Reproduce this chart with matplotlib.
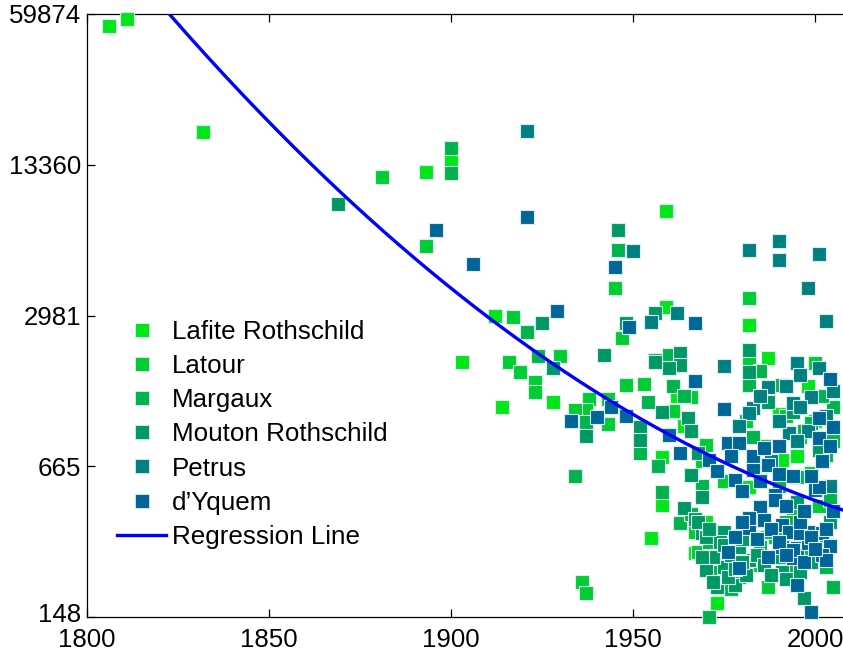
import numpy as np
import matplotlib
matplotlib.use("Agg")
import matplotlib.pyplot as plt
import matplotlib.transforms as mtransforms
from matplotlib.lines import Line2D

plt.rcParams['font.family'] = ['Liberation Sans', 'DejaVu Sans']

# ---- data: vintage year and natural log of price ----
lafite_year = [1806, 1811, 1832, 1893, 1900, 1912, 1903, 1914, 1928, 1959,
               1959, 1982, 1987, 1990, 1955, 1967, 1973, 1982, 1958, 1958,
               1991, 1970, 1976, 1985, 1995, 2000, 1962, 1964, 1998]
lafite_logp = [10.88, 10.95, 9.83, 9.43, 9.55, 8.00, 7.54, 7.09, 7.14, 9.04,
               8.08, 7.91, 7.58, 7.02, 5.79, 5.64, 5.14, 6.29, 6.11, 6.59,
               6.56, 5.95, 5.60, 5.80, 6.60, 6.95, 7.20, 6.90, 7.30]

latour_year = [1881, 1893, 1917, 1916, 1919, 1923, 1923, 1930, 1945, 1947,
               1948, 1938, 1937, 1934, 1943, 1943, 1936, 1937, 1953, 1966,
               1970, 1982, 1982, 2000, 1996, 1999, 1987, 1968, 1967, 1972,
               1978, 1983, 1989, 1994, 2001, 1969, 1975, 1981, 1986, 1992,
               2003, 1961]
latour_logp = [9.38, 8.69, 7.99, 7.54, 7.44, 7.34, 7.24, 7.60, 8.27, 7.78,
               7.31, 7.17, 7.06, 7.06, 6.92, 7.17, 5.35, 5.24, 7.32, 7.19,
               6.71, 8.17, 7.55, 7.53, 6.79, 6.43, 5.30, 5.65, 5.85, 5.70,
               5.62, 5.52, 5.80, 6.05, 6.10, 6.55, 6.35, 6.95, 6.70, 7.00,
               6.60, 7.05]

margaux_year = [1900, 1900, 1921, 1924, 1937, 1934, 1946, 1956, 1960, 1954,
                1957, 1958, 1963, 1971, 1975, 1971, 1983, 1983, 1982, 1982,
                1991, 1986, 1995, 2004, 2004, 2005, 2005, 2003, 1999, 1993,
                2005, 1952, 1966, 1970, 1974, 1977, 1979, 1985, 1988, 1992,
                1997, 2000, 2003, 1969, 1985, 1990, 1997, 2002, 1961, 1964,
                1985]
margaux_logp = [9.67, 9.42, 7.84, 7.60, 6.94, 6.40, 8.65, 7.56, 7.61, 7.14,
                6.50, 6.24, 5.94, 5.00, 5.85, 5.75, 5.79, 6.79, 7.39, 7.31,
                7.31, 7.16, 6.39, 6.29, 6.16, 7.09, 6.75, 6.61, 6.93, 5.50,
                5.30, 6.63, 6.02, 5.55, 5.45, 5.28, 5.40, 5.70, 5.85, 5.95,
                5.65, 5.80, 5.50, 6.30, 6.50, 6.30, 6.85, 7.20, 7.30, 7.20,
                7.45]

mouton_year = [1869, 1925, 1928, 1942, 1946, 1948, 1937, 1956, 1963, 1963,
               1960, 1956, 1958, 1965, 1966, 1952, 1952, 1968, 1977, 1966,
               1969, 1964, 1967, 1969, 1975, 1976, 1970, 1973, 1978, 1981,
               1982, 1975, 1982, 1982, 1987, 1994, 2001, 1995, 2004, 1991,
               1997, 1968, 1970, 1972, 1974, 1977, 1979, 1980, 1976, 1972,
               1969, 1971, 1975, 1978, 1980, 1984, 1986, 1988, 1990, 1992,
               1996, 1999, 2003]
mouton_logp = [9.11, 7.93, 7.48, 7.61, 8.85, 7.93, 6.80, 8.02, 7.63, 7.51,
               7.48, 7.54, 7.04, 6.98, 6.85, 6.89, 6.76, 6.63, 6.66, 6.41,
               6.19, 6.08, 5.98, 5.84, 5.85, 5.67, 5.47, 5.30, 5.32, 5.42,
               5.57, 5.50, 7.66, 7.44, 7.14, 7.04, 6.66, 6.14, 5.95, 5.45,
               5.19, 5.95, 5.80, 5.60, 5.75, 5.62, 5.70, 5.55, 5.40, 5.35,
               5.60, 5.88, 5.72, 5.48, 5.78, 5.62, 5.52, 5.42, 5.60, 5.38,
               5.45, 5.55, 5.72]

petrus_year = [1921, 1950, 1955, 1962, 1982, 1990, 1990, 2001, 1998, 2003,
               1975, 1987, 1983, 1982, 1995, 1996, 2001, 1999, 1994, 1996,
               1993, 1990, 1998, 2003, 2005, 1985, 1992, 1988, 1995, 2004,
               1979]
petrus_logp = [9.84, 8.64, 7.94, 8.02, 8.65, 8.74, 8.55, 8.61, 8.27, 7.95,
               7.50, 7.29, 7.08, 7.03, 7.53, 7.41, 7.48, 7.19, 7.13, 7.09,
               6.83, 6.95, 6.85, 7.00, 7.25, 7.20, 7.30, 6.55, 6.75, 6.30,
               6.90]

yquem_year = [1896, 1906, 1921, 1929, 1933, 1940, 1944, 1948, 1945, 1949,
              1967, 1967, 1975, 1960, 1963, 1971, 1976, 1979, 1983, 1986,
              1978, 1983, 1987, 1990, 1989, 1985, 1986, 1982, 1982, 1979,
              1991, 1993, 1998, 2002, 1995, 1998, 2004, 2002, 1994, 1991,
              1995, 1999, 2004, 2001, 2005, 2001, 2000, 1989, 1996, 2003,
              1994, 2001, 1976, 1978, 1980, 1984, 1987, 1988, 1990, 1992,
              1996, 1997, 1999, 2000, 2003, 2005, 1985, 1992, 1997, 1999,
              2002, 2004, 1980, 1973, 1977, 1990, 1994]
yquem_logp = [8.85, 8.51, 8.98, 8.04, 6.95, 6.99, 7.09, 7.00, 8.48, 7.89,
              7.93, 7.35, 7.07, 6.81, 6.63, 6.56, 6.73, 6.73, 6.60, 6.68,
              6.36, 6.46, 6.51, 6.42, 6.21, 6.09, 5.97, 5.89, 5.99, 5.49,
              5.92, 5.85, 5.85, 5.84, 5.69, 5.74, 5.71, 5.62, 5.59, 5.70,
              5.32, 5.05, 7.37, 6.98, 6.89, 6.78, 6.26, 6.16, 5.84, 5.57,
              5.67, 6.29, 5.65, 5.80, 5.95, 5.78, 5.60, 5.88, 5.75, 5.62,
              5.95, 5.55, 5.80, 5.68, 5.88, 6.05, 6.35, 6.10, 6.05, 6.40,
              6.55, 6.70, 6.25, 6.45, 6.60, 6.70, 6.40]

wine_names = ["Lafite Rothschild", "Latour", "Margaux",
              "Mouton Rothschild", "Petrus", "d\u2019Yquem"]
wine_colors = [(0, 0.9, 0.1), (0, 0.8, 0.2), (0, 0.7, 0.3),
               (0, 0.6, 0.4), (0, 0.5, 0.5), (0, 0.4, 0.6)]

# quadratic fit of log price on vintage, centred at 2008
reg_center = 2008
reg_coef = [6.06, -0.01187, 7.97e-5]

# y ticks sit at log-price values; labels show the price itself
ytick_logs = [5.0, 6.5, 8.0, 9.5, 11.0]
ytick_labels = ["148", "665", "2981", "13360", "59874"]
xtick_years = [1800, 1850, 1900, 1950, 2000]

W, H = 843, 653
fig = plt.figure(figsize=(W / 100, H / 100), dpi=100)
left, right, top, bottom = 87, 843, 14, 617
ax = fig.add_axes([left / W, 1 - bottom / H, (right - left) / W, (bottom - top) / H])

series = [(lafite_year, lafite_logp), (latour_year, latour_logp),
          (margaux_year, margaux_logp), (mouton_year, mouton_logp),
          (petrus_year, petrus_logp), (yquem_year, yquem_logp)]

edge = '#dcecec'
handles = []
for (yrs, lp), name, col in zip(series, wine_names, wine_colors):
    ax.plot(yrs, lp, ls='none', marker='s', ms=10.2, mfc=col,
            mec=edge, mew=0.8, clip_on=False, zorder=3)
    handles.append(Line2D([], [], ls='none', marker='s', ms=9.8, mfc=col,
                          mec=edge, mew=0.6, label=name))

t = np.linspace(1800, 2008, 400)
u = t - reg_center
fit = reg_coef[0] + reg_coef[1] * u + reg_coef[2] * u ** 2
ax.plot(t, fit, color=(0, 0, 1), lw=2.4, zorder=4)
handles.append(Line2D([], [], color=(0, 0, 1), lw=2.4, label="Regression Line"))

ax.set_xlim(1800, 2007.7)
ax.set_ylim(5.0, 11.0)
ax.set_xticks(xtick_years)
ax.set_xticklabels([str(y) for y in xtick_years])
ax.set_yticks(ytick_logs)
ax.set_yticklabels(ytick_labels)

ax.spines['right'].set_visible(False)
for s in ['left', 'bottom', 'top']:
    ax.spines[s].set_linewidth(0.9)
ax.tick_params(direction='in', length=6, width=0.9, top=True, right=False,
               labelsize=18.6, pad=4)
ax.tick_params(axis='x', pad=8)

# lift the lowest price label a little so it clears the first year label
lbl = ax.get_yticklabels()[0]
lbl.set_transform(lbl.get_transform() +
                  mtransforms.ScaledTranslation(0, 4 / 100, fig.dpi_scale_trans))

leg = ax.legend(handles=handles, loc='upper left',
                bbox_to_anchor=((117 - left) / (right - left),
                                (bottom - 320) / (bottom - top)),
                frameon=False, fontsize=18.7, handlelength=1.9,
                handletextpad=0.23, labelspacing=0.39, borderpad=0,
                borderaxespad=0)

fig.savefig("out.png", dpi=100)
